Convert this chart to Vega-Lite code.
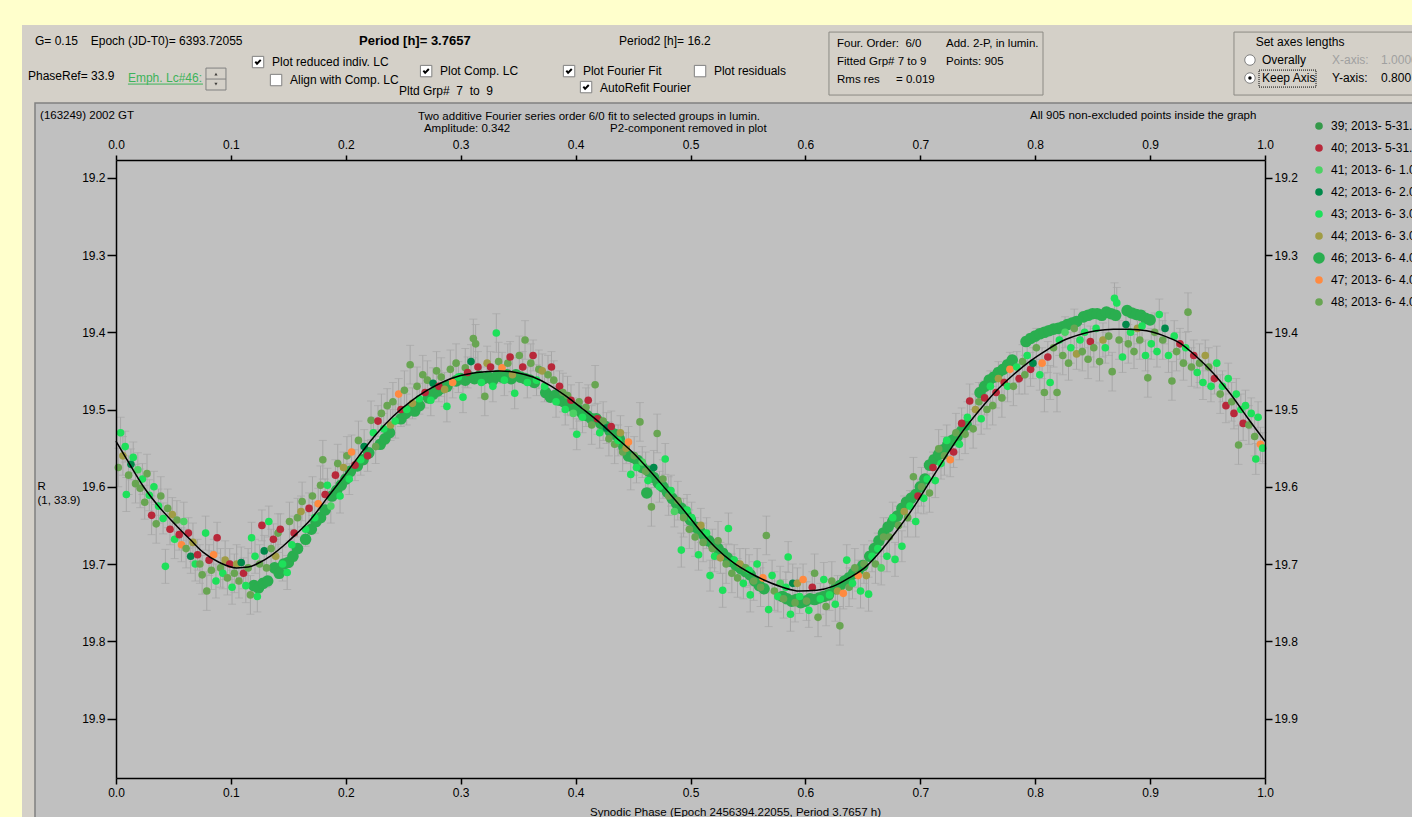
{
"$schema":"https://vega.github.io/schema/vega-lite/v6.json",
"autosize":"none",
"width":1149,"height":618,
"padding":{"left":116,"top":160,"right":147,"bottom":39},
"background":"#FFFFCC",
"config":{"font":"Liberation Sans","view":{"stroke":null},
"text":{"font":"Liberation Sans","fontSize":12,"baseline":"middle","align":"left","color":"#000"},
"axis":{"labelFont":"Liberation Sans","labelFontSize":12,"labelColor":"#000","tickColor":"#000","domainColor":"#000","domainWidth":1.5,"tickWidth":1.5,"grid":false,"labelFlush":false,"labelOverlap":false},
"legend":{"labelFont":"Liberation Sans","labelFontSize":12,"labelColor":"#000","padding":0}},
"data":{"values":[{}]},
"datasets":{
"fit":[{"p":0,"m":19.541},{"p":0.012,"m":19.571},{"p":0.024,"m":19.600},{"p":0.038,"m":19.627},{"p":0.053,"m":19.651},{"p":0.065,"m":19.669},{"p":0.076,"m":19.685},{"p":0.09,"m":19.698},{"p":0.105,"m":19.705},{"p":0.115,"m":19.704},{"p":0.125,"m":19.698},{"p":0.135,"m":19.689},{"p":0.146,"m":19.676},{"p":0.157,"m":19.661},{"p":0.169,"m":19.643},{"p":0.183,"m":19.616},{"p":0.198,"m":19.587},{"p":0.212,"m":19.559},{"p":0.227,"m":19.531},{"p":0.241,"m":19.509},{"p":0.256,"m":19.490},{"p":0.27,"m":19.476},{"p":0.285,"m":19.464},{"p":0.3,"m":19.456},{"p":0.314,"m":19.452},{"p":0.334,"m":19.450},{"p":0.348,"m":19.452},{"p":0.363,"m":19.458},{"p":0.378,"m":19.469},{"p":0.392,"m":19.483},{"p":0.406,"m":19.499},{"p":0.421,"m":19.517},{"p":0.435,"m":19.536},{"p":0.45,"m":19.556},{"p":0.465,"m":19.580},{"p":0.479,"m":19.604},{"p":0.494,"m":19.630},{"p":0.508,"m":19.656},{"p":0.522,"m":19.679},{"p":0.537,"m":19.698},{"p":0.551,"m":19.711},{"p":0.566,"m":19.722},{"p":0.58,"m":19.730},{"p":0.595,"m":19.735},{"p":0.61,"m":19.734},{"p":0.624,"m":19.729},{"p":0.638,"m":19.718},{"p":0.653,"m":19.703},{"p":0.665,"m":19.684},{"p":0.68,"m":19.656},{"p":0.694,"m":19.627},{"p":0.708,"m":19.594},{"p":0.723,"m":19.559},{"p":0.737,"m":19.528},{"p":0.752,"m":19.500},{"p":0.766,"m":19.476},{"p":0.781,"m":19.455},{"p":0.795,"m":19.438},{"p":0.81,"m":19.423},{"p":0.824,"m":19.411},{"p":0.839,"m":19.403},{"p":0.853,"m":19.398},{"p":0.868,"m":19.396},{"p":0.882,"m":19.396},{"p":0.897,"m":19.398},{"p":0.911,"m":19.404},{"p":0.926,"m":19.414},{"p":0.94,"m":19.431},{"p":0.955,"m":19.453},{"p":0.97,"m":19.480},{"p":0.984,"m":19.509},{"p":1.0,"m":19.541}],
"pts":[
{"p":0.120,"m":19.728,"e":0.006,"g":"46"},{"p":0.124,"m":19.731,"e":0.006,"g":"46"},{"p":0.128,"m":19.725,"e":0.006,"g":"46"},{"p":0.132,"m":19.722,"e":0.006,"g":"46"},
{"p":0.138,"m":19.705,"e":0.006,"g":"46"},{"p":0.142,"m":19.712,"e":0.006,"g":"46"},{"p":0.146,"m":19.700,"e":0.006,"g":"46"},{"p":0.150,"m":19.698,"e":0.006,"g":"46"},{"p":0.154,"m":19.690,"e":0.006,"g":"46"},{"p":0.158,"m":19.680,"e":0.006,"g":"46"},
{"p":0.165,"m":19.668,"e":0.006,"g":"46"},{"p":0.170,"m":19.655,"e":0.006,"g":"46"},{"p":0.174,"m":19.645,"e":0.006,"g":"46"},{"p":0.178,"m":19.640,"e":0.006,"g":"46"},{"p":0.182,"m":19.630,"e":0.006,"g":"46"},
{"p":0.188,"m":19.612,"e":0.006,"g":"46"},{"p":0.192,"m":19.605,"e":0.006,"g":"46"},{"p":0.196,"m":19.598,"e":0.006,"g":"46"},{"p":0.200,"m":19.590,"e":0.006,"g":"46"},{"p":0.204,"m":19.580,"e":0.006,"g":"46"},
{"p":0.210,"m":19.573,"e":0.006,"g":"46"},{"p":0.215,"m":19.565,"e":0.006,"g":"46"},{"p":0.220,"m":19.556,"e":0.006,"g":"46"},
{"p":0.230,"m":19.545,"e":0.006,"g":"46"},{"p":0.234,"m":19.538,"e":0.006,"g":"46"},{"p":0.238,"m":19.530,"e":0.006,"g":"46"},
{"p":0.248,"m":19.512,"e":0.006,"g":"46"},{"p":0.252,"m":19.505,"e":0.006,"g":"46"},{"p":0.256,"m":19.500,"e":0.006,"g":"46"},{"p":0.260,"m":19.502,"e":0.006,"g":"46"},{"p":0.264,"m":19.495,"e":0.006,"g":"46"},
{"p":0.272,"m":19.485,"e":0.006,"g":"46"},{"p":0.276,"m":19.480,"e":0.006,"g":"46"},{"p":0.280,"m":19.476,"e":0.006,"g":"46"},{"p":0.284,"m":19.472,"e":0.006,"g":"46"},{"p":0.288,"m":19.470,"e":0.006,"g":"46"},
{"p":0.296,"m":19.463,"e":0.006,"g":"46"},{"p":0.300,"m":19.460,"e":0.006,"g":"46"},{"p":0.304,"m":19.462,"e":0.006,"g":"46"},{"p":0.308,"m":19.458,"e":0.006,"g":"46"},{"p":0.312,"m":19.460,"e":0.006,"g":"46"},{"p":0.316,"m":19.457,"e":0.006,"g":"46"},{"p":0.320,"m":19.460,"e":0.006,"g":"46"},{"p":0.324,"m":19.458,"e":0.006,"g":"46"},{"p":0.328,"m":19.462,"e":0.006,"g":"46"},{"p":0.332,"m":19.456,"e":0.006,"g":"46"},{"p":0.336,"m":19.458,"e":0.006,"g":"46"},{"p":0.340,"m":19.455,"e":0.006,"g":"46"},{"p":0.344,"m":19.460,"e":0.006,"g":"46"},
{"p":0.348,"m":19.455,"e":0.006,"g":"46"},{"p":0.352,"m":19.458,"e":0.006,"g":"46"},{"p":0.356,"m":19.460,"e":0.006,"g":"46"},{"p":0.360,"m":19.462,"e":0.006,"g":"46"},{"p":0.364,"m":19.465,"e":0.006,"g":"46"},
{"p":0.374,"m":19.478,"e":0.006,"g":"46"},{"p":0.378,"m":19.484,"e":0.006,"g":"46"},{"p":0.382,"m":19.482,"e":0.006,"g":"46"},{"p":0.386,"m":19.488,"e":0.006,"g":"46"},{"p":0.390,"m":19.490,"e":0.006,"g":"46"},{"p":0.394,"m":19.493,"e":0.006,"g":"46"},{"p":0.398,"m":19.497,"e":0.006,"g":"46"},{"p":0.402,"m":19.500,"e":0.006,"g":"46"},{"p":0.406,"m":19.505,"e":0.006,"g":"46"},{"p":0.410,"m":19.508,"e":0.006,"g":"46"},{"p":0.414,"m":19.512,"e":0.006,"g":"46"},{"p":0.418,"m":19.512,"e":0.006,"g":"46"},{"p":0.422,"m":19.518,"e":0.006,"g":"46"},{"p":0.426,"m":19.522,"e":0.006,"g":"46"},{"p":0.430,"m":19.528,"e":0.006,"g":"46"},{"p":0.434,"m":19.532,"e":0.006,"g":"46"},{"p":0.438,"m":19.538,"e":0.006,"g":"46"},
{"p":0.442,"m":19.548,"e":0.006,"g":"46"},{"p":0.446,"m":19.560,"e":0.006,"g":"46"},{"p":0.450,"m":19.562,"e":0.006,"g":"46"},{"p":0.454,"m":19.566,"e":0.006,"g":"46"},{"p":0.458,"m":19.575,"e":0.006,"g":"46"},{"p":0.462,"m":19.608,"e":0.006,"g":"46"},{"p":0.464,"m":19.580,"e":0.006,"g":"46"},{"p":0.468,"m":19.588,"e":0.006,"g":"46"},{"p":0.472,"m":19.595,"e":0.006,"g":"46"},{"p":0.476,"m":19.600,"e":0.006,"g":"46"},{"p":0.480,"m":19.607,"e":0.006,"g":"46"},{"p":0.484,"m":19.615,"e":0.006,"g":"46"},{"p":0.488,"m":19.622,"e":0.006,"g":"46"},{"p":0.492,"m":19.628,"e":0.006,"g":"46"},{"p":0.496,"m":19.636,"e":0.006,"g":"46"},
{"p":0.500,"m":19.643,"e":0.006,"g":"46"},{"p":0.504,"m":19.652,"e":0.006,"g":"46"},{"p":0.508,"m":19.657,"e":0.006,"g":"46"},{"p":0.512,"m":19.663,"e":0.006,"g":"46"},{"p":0.516,"m":19.670,"e":0.006,"g":"46"},{"p":0.520,"m":19.675,"e":0.006,"g":"46"},{"p":0.524,"m":19.680,"e":0.006,"g":"46"},{"p":0.528,"m":19.686,"e":0.006,"g":"46"},{"p":0.532,"m":19.692,"e":0.006,"g":"46"},{"p":0.536,"m":19.697,"e":0.006,"g":"46"},{"p":0.540,"m":19.702,"e":0.006,"g":"46"},{"p":0.544,"m":19.706,"e":0.006,"g":"46"},
{"p":0.548,"m":19.710,"e":0.006,"g":"46"},{"p":0.552,"m":19.714,"e":0.006,"g":"46"},{"p":0.556,"m":19.722,"e":0.006,"g":"46"},{"p":0.560,"m":19.728,"e":0.006,"g":"46"},{"p":0.564,"m":19.732,"e":0.006,"g":"46"},
{"p":0.580,"m":19.742,"e":0.006,"g":"46"},{"p":0.584,"m":19.745,"e":0.006,"g":"46"},{"p":0.588,"m":19.748,"e":0.006,"g":"46"},{"p":0.592,"m":19.746,"e":0.006,"g":"46"},{"p":0.596,"m":19.750,"e":0.006,"g":"46"},{"p":0.600,"m":19.748,"e":0.006,"g":"46"},{"p":0.604,"m":19.745,"e":0.006,"g":"46"},{"p":0.608,"m":19.746,"e":0.006,"g":"46"},{"p":0.612,"m":19.744,"e":0.006,"g":"46"},{"p":0.616,"m":19.742,"e":0.006,"g":"46"},{"p":0.620,"m":19.740,"e":0.006,"g":"46"},
{"p":0.626,"m":19.732,"e":0.006,"g":"46"},{"p":0.630,"m":19.728,"e":0.006,"g":"46"},{"p":0.634,"m":19.722,"e":0.006,"g":"46"},{"p":0.638,"m":19.718,"e":0.006,"g":"46"},{"p":0.642,"m":19.712,"e":0.006,"g":"46"},{"p":0.646,"m":19.708,"e":0.006,"g":"46"},{"p":0.650,"m":19.702,"e":0.006,"g":"46"},
{"p":0.656,"m":19.690,"e":0.006,"g":"46"},{"p":0.660,"m":19.680,"e":0.006,"g":"46"},{"p":0.664,"m":19.670,"e":0.006,"g":"46"},{"p":0.668,"m":19.660,"e":0.006,"g":"46"},{"p":0.672,"m":19.652,"e":0.006,"g":"46"},{"p":0.676,"m":19.645,"e":0.006,"g":"46"},{"p":0.680,"m":19.638,"e":0.006,"g":"46"},{"p":0.684,"m":19.628,"e":0.006,"g":"46"},{"p":0.688,"m":19.620,"e":0.006,"g":"46"},{"p":0.692,"m":19.615,"e":0.006,"g":"46"},{"p":0.696,"m":19.610,"e":0.006,"g":"46"},{"p":0.700,"m":19.600,"e":0.006,"g":"46"},{"p":0.704,"m":19.590,"e":0.006,"g":"46"},
{"p":0.708,"m":19.572,"e":0.006,"g":"46"},{"p":0.712,"m":19.565,"e":0.006,"g":"46"},{"p":0.716,"m":19.558,"e":0.006,"g":"46"},{"p":0.720,"m":19.552,"e":0.006,"g":"46"},{"p":0.724,"m":19.545,"e":0.006,"g":"46"},{"p":0.728,"m":19.540,"e":0.006,"g":"46"},{"p":0.732,"m":19.535,"e":0.006,"g":"46"},{"p":0.736,"m":19.528,"e":0.006,"g":"46"},{"p":0.740,"m":19.520,"e":0.006,"g":"46"},
{"p":0.752,"m":19.478,"e":0.006,"g":"46"},{"p":0.756,"m":19.470,"e":0.006,"g":"46"},{"p":0.760,"m":19.462,"e":0.006,"g":"46"},{"p":0.764,"m":19.458,"e":0.006,"g":"46"},{"p":0.768,"m":19.452,"e":0.006,"g":"46"},{"p":0.772,"m":19.448,"e":0.006,"g":"46"},{"p":0.776,"m":19.442,"e":0.006,"g":"46"},{"p":0.780,"m":19.436,"e":0.006,"g":"46"},
{"p":0.792,"m":19.412,"e":0.006,"g":"46"},{"p":0.796,"m":19.408,"e":0.006,"g":"46"},{"p":0.800,"m":19.405,"e":0.006,"g":"46"},{"p":0.804,"m":19.402,"e":0.006,"g":"46"},{"p":0.808,"m":19.400,"e":0.006,"g":"46"},{"p":0.812,"m":19.398,"e":0.006,"g":"46"},{"p":0.816,"m":19.396,"e":0.006,"g":"46"},{"p":0.820,"m":19.395,"e":0.006,"g":"46"},{"p":0.824,"m":19.393,"e":0.006,"g":"46"},{"p":0.828,"m":19.390,"e":0.006,"g":"46"},{"p":0.832,"m":19.388,"e":0.006,"g":"46"},{"p":0.836,"m":19.386,"e":0.006,"g":"46"},
{"p":0.842,"m":19.380,"e":0.006,"g":"46"},{"p":0.846,"m":19.378,"e":0.006,"g":"46"},{"p":0.850,"m":19.376,"e":0.006,"g":"46"},{"p":0.854,"m":19.376,"e":0.006,"g":"46"},{"p":0.858,"m":19.378,"e":0.006,"g":"46"},{"p":0.862,"m":19.374,"e":0.006,"g":"46"},{"p":0.866,"m":19.376,"e":0.006,"g":"46"},{"p":0.870,"m":19.378,"e":0.006,"g":"46"},{"p":0.880,"m":19.372,"e":0.006,"g":"46"},{"p":0.884,"m":19.375,"e":0.006,"g":"46"},{"p":0.888,"m":19.377,"e":0.006,"g":"46"},{"p":0.892,"m":19.378,"e":0.006,"g":"46"},{"p":0.896,"m":19.382,"e":0.006,"g":"46"},{"p":0.900,"m":19.384,"e":0.006,"g":"46"},
{"p":0.002,"m":19.575,"e":0.025,"g":"48"},{"p":0.004,"m":19.530,"e":0.02,"g":"43"},{"p":0.006,"m":19.560,"e":0.025,"g":"44"},{"p":0.008,"m":19.548,"e":0.02,"g":"43"},{"p":0.009,"m":19.610,"e":0.022,"g":"43"},
{"p":0.011,"m":19.585,"e":0.025,"g":"48"},{"p":0.013,"m":19.571,"e":0.02,"g":"42"},{"p":0.015,"m":19.562,"e":0.02,"g":"43"},{"p":0.017,"m":19.596,"e":0.025,"g":"48"},{"p":0.019,"m":19.578,"e":0.022,"g":"41"},
{"p":0.021,"m":19.602,"e":0.025,"g":"48"},{"p":0.023,"m":19.590,"e":0.02,"g":"43"},{"p":0.025,"m":19.620,"e":0.022,"g":"48"},{"p":0.027,"m":19.583,"e":0.025,"g":"48"},{"p":0.029,"m":19.611,"e":0.02,"g":"43"},
{"p":0.031,"m":19.637,"e":0.025,"g":"40"},{"p":0.033,"m":19.600,"e":0.02,"g":"43"},{"p":0.035,"m":19.648,"e":0.025,"g":"48"},{"p":0.037,"m":19.625,"e":0.022,"g":"43"},{"p":0.039,"m":19.612,"e":0.025,"g":"48"},
{"p":0.041,"m":19.641,"e":0.02,"g":"43"},{"p":0.043,"m":19.703,"e":0.022,"g":"43"},{"p":0.045,"m":19.628,"e":0.025,"g":"48"},{"p":0.047,"m":19.655,"e":0.02,"g":"40"},{"p":0.049,"m":19.636,"e":0.022,"g":"44"},
{"p":0.051,"m":19.668,"e":0.025,"g":"43"},{"p":0.053,"m":19.643,"e":0.025,"g":"48"},{"p":0.055,"m":19.662,"e":0.02,"g":"40"},{"p":0.057,"m":19.675,"e":0.022,"g":"47"},{"p":0.059,"m":19.645,"e":0.025,"g":"41"},
{"p":0.061,"m":19.680,"e":0.025,"g":"48"},{"p":0.063,"m":19.660,"e":0.02,"g":"40"},{"p":0.065,"m":19.690,"e":0.022,"g":"42"},{"p":0.067,"m":19.672,"e":0.025,"g":"44"},{"p":0.069,"m":19.700,"e":0.022,"g":"43"},
{"p":0.071,"m":19.688,"e":0.02,"g":"40"},{"p":0.073,"m":19.700,"e":0.025,"g":"48"},{"p":0.075,"m":19.714,"e":0.025,"g":"48"},{"p":0.078,"m":19.660,"e":0.022,"g":"43"},{"p":0.079,"m":19.735,"e":0.025,"g":"48"},
{"p":0.081,"m":19.695,"e":0.02,"g":"40"},{"p":0.083,"m":19.708,"e":0.025,"g":"48"},{"p":0.085,"m":19.688,"e":0.02,"g":"47"},{"p":0.087,"m":19.722,"e":0.022,"g":"43"},{"p":0.088,"m":19.666,"e":0.02,"g":"40"},
{"p":0.091,"m":19.705,"e":0.025,"g":"48"},{"p":0.093,"m":19.712,"e":0.02,"g":"43"},{"p":0.095,"m":19.695,"e":0.025,"g":"44"},{"p":0.097,"m":19.718,"e":0.022,"g":"48"},{"p":0.099,"m":19.700,"e":0.02,"g":"40"},
{"p":0.101,"m":19.730,"e":0.022,"g":"43"},{"p":0.103,"m":19.712,"e":0.025,"g":"48"},{"p":0.105,"m":19.700,"e":0.025,"g":"44"},{"p":0.107,"m":19.722,"e":0.022,"g":"48"},{"p":0.109,"m":19.698,"e":0.02,"g":"42"},
{"p":0.111,"m":19.712,"e":0.02,"g":"40"},{"p":0.113,"m":19.728,"e":0.022,"g":"43"},{"p":0.115,"m":19.705,"e":0.025,"g":"48"},{"p":0.117,"m":19.740,"e":0.025,"g":"48"},{"p":0.118,"m":19.666,"e":0.02,"g":"43"},
{"p":0.121,"m":19.690,"e":0.022,"g":"43"},{"p":0.123,"m":19.742,"e":0.02,"g":"43"},{"p":0.125,"m":19.700,"e":0.025,"g":"48"},{"p":0.127,"m":19.650,"e":0.02,"g":"40"},{"p":0.129,"m":19.683,"e":0.02,"g":"42"},
{"p":0.131,"m":19.705,"e":0.025,"g":"48"},{"p":0.133,"m":19.645,"e":0.02,"g":"43"},{"p":0.135,"m":19.680,"e":0.025,"g":"48"},{"p":0.137,"m":19.668,"e":0.02,"g":"40"},{"p":0.139,"m":19.690,"e":0.022,"g":"44"},
{"p":0.141,"m":19.660,"e":0.025,"g":"48"},{"p":0.143,"m":19.655,"e":0.02,"g":"40"},{"p":0.145,"m":19.700,"e":0.022,"g":"43"},{"p":0.149,"m":19.711,"e":0.022,"g":"43"},
{"p":0.151,"m":19.645,"e":0.025,"g":"48"},{"p":0.153,"m":19.675,"e":0.02,"g":"43"},{"p":0.155,"m":19.660,"e":0.022,"g":"40"},{"p":0.158,"m":19.640,"e":0.025,"g":"48"},
{"p":0.161,"m":19.632,"e":0.02,"g":"44"},{"p":0.162,"m":19.619,"e":0.025,"g":"48"},{"p":0.165,"m":19.655,"e":0.022,"g":"43"},{"p":0.168,"m":19.628,"e":0.02,"g":"40"},
{"p":0.171,"m":19.612,"e":0.025,"g":"48"},{"p":0.173,"m":19.640,"e":0.02,"g":"43"},{"p":0.176,"m":19.622,"e":0.02,"g":"47"},{"p":0.178,"m":19.598,"e":0.025,"g":"48"},
{"p":0.180,"m":19.565,"e":0.025,"g":"48"},{"p":0.182,"m":19.610,"e":0.02,"g":"40"},{"p":0.184,"m":19.598,"e":0.022,"g":"43"},{"p":0.187,"m":19.625,"e":0.022,"g":"41"},
{"p":0.191,"m":19.585,"e":0.02,"g":"40"},{"p":0.193,"m":19.570,"e":0.025,"g":"48"},{"p":0.195,"m":19.612,"e":0.022,"g":"43"},{"p":0.198,"m":19.575,"e":0.02,"g":"44"},
{"p":0.201,"m":19.560,"e":0.025,"g":"48"},{"p":0.203,"m":19.590,"e":0.02,"g":"43"},{"p":0.205,"m":19.555,"e":0.022,"g":"47"},{"p":0.208,"m":19.572,"e":0.02,"g":"40"},
{"p":0.211,"m":19.540,"e":0.025,"g":"48"},{"p":0.213,"m":19.565,"e":0.02,"g":"43"},{"p":0.216,"m":19.548,"e":0.022,"g":"42"},{"p":0.219,"m":19.560,"e":0.02,"g":"40"},
{"p":0.222,"m":19.514,"e":0.025,"g":"48"},{"p":0.224,"m":19.530,"e":0.02,"g":"43"},{"p":0.226,"m":19.548,"e":0.022,"g":"48"},{"p":0.228,"m":19.515,"e":0.02,"g":"40"},
{"p":0.231,"m":19.505,"e":0.025,"g":"48"},{"p":0.233,"m":19.525,"e":0.02,"g":"43"},{"p":0.236,"m":19.495,"e":0.022,"g":"48"},{"p":0.239,"m":19.520,"e":0.02,"g":"44"},
{"p":0.241,"m":19.490,"e":0.025,"g":"48"},{"p":0.243,"m":19.515,"e":0.022,"g":"43"},{"p":0.246,"m":19.480,"e":0.02,"g":"47"},{"p":0.248,"m":19.500,"e":0.022,"g":"40"},
{"p":0.251,"m":19.475,"e":0.025,"g":"48"},{"p":0.253,"m":19.500,"e":0.02,"g":"43"},{"p":0.256,"m":19.442,"e":0.025,"g":"48"},{"p":0.258,"m":19.492,"e":0.02,"g":"44"},
{"p":0.262,"m":19.470,"e":0.025,"g":"48"},{"p":0.264,"m":19.486,"e":0.02,"g":"43"},{"p":0.267,"m":19.455,"e":0.025,"g":"48"},{"p":0.269,"m":19.478,"e":0.02,"g":"40"},
{"p":0.271,"m":19.462,"e":0.025,"g":"48"},{"p":0.274,"m":19.488,"e":0.02,"g":"43"},{"p":0.276,"m":19.466,"e":0.02,"g":"42"},{"p":0.279,"m":19.450,"e":0.025,"g":"48"},
{"p":0.281,"m":19.470,"e":0.02,"g":"40"},{"p":0.283,"m":19.458,"e":0.025,"g":"48"},{"p":0.286,"m":19.474,"e":0.022,"g":"44"},{"p":0.288,"m":19.496,"e":0.02,"g":"43"},
{"p":0.291,"m":19.448,"e":0.025,"g":"48"},{"p":0.293,"m":19.465,"e":0.02,"g":"47"},{"p":0.296,"m":19.440,"e":0.025,"g":"48"},{"p":0.298,"m":19.458,"e":0.02,"g":"43"},
{"p":0.302,"m":19.484,"e":0.02,"g":"43"},{"p":0.304,"m":19.446,"e":0.025,"g":"48"},{"p":0.306,"m":19.452,"e":0.02,"g":"40"},{"p":0.309,"m":19.438,"e":0.022,"g":"42"},
{"p":0.311,"m":19.408,"e":0.025,"g":"48"},{"p":0.313,"m":19.415,"e":0.025,"g":"48"},{"p":0.315,"m":19.445,"e":0.02,"g":"40"},{"p":0.318,"m":19.465,"e":0.02,"g":"43"},
{"p":0.321,"m":19.483,"e":0.025,"g":"48"},{"p":0.323,"m":19.440,"e":0.022,"g":"44"},{"p":0.326,"m":19.445,"e":0.02,"g":"40"},{"p":0.328,"m":19.470,"e":0.02,"g":"43"},
{"p":0.331,"m":19.401,"e":0.025,"g":"43"},{"p":0.333,"m":19.438,"e":0.025,"g":"48"},{"p":0.336,"m":19.446,"e":0.02,"g":"47"},{"p":0.338,"m":19.462,"e":0.02,"g":"43"},
{"p":0.341,"m":19.440,"e":0.025,"g":"48"},{"p":0.343,"m":19.432,"e":0.02,"g":"40"},{"p":0.345,"m":19.455,"e":0.022,"g":"44"},{"p":0.347,"m":19.479,"e":0.02,"g":"43"},
{"p":0.351,"m":19.430,"e":0.025,"g":"48"},{"p":0.354,"m":19.445,"e":0.02,"g":"40"},{"p":0.356,"m":19.410,"e":0.025,"g":"48"},{"p":0.358,"m":19.465,"e":0.02,"g":"43"},
{"p":0.361,"m":19.440,"e":0.025,"g":"48"},{"p":0.363,"m":19.430,"e":0.02,"g":"40"},{"p":0.366,"m":19.462,"e":0.02,"g":"43"},{"p":0.368,"m":19.448,"e":0.025,"g":"48"},
{"p":0.371,"m":19.450,"e":0.022,"g":"44"},{"p":0.373,"m":19.470,"e":0.02,"g":"43"},{"p":0.376,"m":19.455,"e":0.025,"g":"48"},{"p":0.379,"m":19.445,"e":0.02,"g":"40"},
{"p":0.381,"m":19.462,"e":0.025,"g":"48"},{"p":0.383,"m":19.490,"e":0.02,"g":"43"},{"p":0.386,"m":19.470,"e":0.02,"g":"40"},{"p":0.389,"m":19.478,"e":0.025,"g":"48"},
{"p":0.391,"m":19.500,"e":0.02,"g":"43"},{"p":0.393,"m":19.482,"e":0.025,"g":"48"},{"p":0.396,"m":19.488,"e":0.02,"g":"40"},{"p":0.398,"m":19.505,"e":0.02,"g":"41"},
{"p":0.401,"m":19.532,"e":0.02,"g":"43"},{"p":0.403,"m":19.490,"e":0.025,"g":"48"},{"p":0.406,"m":19.510,"e":0.02,"g":"43"},{"p":0.409,"m":19.497,"e":0.025,"g":"48"},
{"p":0.411,"m":19.488,"e":0.02,"g":"40"},{"p":0.414,"m":19.520,"e":0.025,"g":"48"},{"p":0.417,"m":19.468,"e":0.025,"g":"48"},{"p":0.419,"m":19.512,"e":0.02,"g":"40"},
{"p":0.421,"m":19.530,"e":0.02,"g":"43"},{"p":0.424,"m":19.515,"e":0.025,"g":"48"},{"p":0.427,"m":19.524,"e":0.02,"g":"42"},{"p":0.429,"m":19.538,"e":0.022,"g":"48"},
{"p":0.431,"m":19.522,"e":0.02,"g":"40"},{"p":0.434,"m":19.545,"e":0.025,"g":"48"},{"p":0.437,"m":19.540,"e":0.02,"g":"43"},{"p":0.439,"m":19.530,"e":0.022,"g":"44"},
{"p":0.441,"m":19.555,"e":0.025,"g":"48"},{"p":0.444,"m":19.550,"e":0.02,"g":"44"},{"p":0.446,"m":19.542,"e":0.02,"g":"47"},{"p":0.448,"m":19.584,"e":0.02,"g":"43"},
{"p":0.451,"m":19.560,"e":0.025,"g":"48"},{"p":0.453,"m":19.575,"e":0.02,"g":"43"},{"p":0.456,"m":19.516,"e":0.025,"g":"48"},{"p":0.458,"m":19.568,"e":0.02,"g":"41"},
{"p":0.461,"m":19.580,"e":0.025,"g":"48"},{"p":0.463,"m":19.592,"e":0.02,"g":"43"},{"p":0.466,"m":19.626,"e":0.025,"g":"48"},{"p":0.468,"m":19.575,"e":0.022,"g":"42"},
{"p":0.471,"m":19.531,"e":0.025,"g":"48"},{"p":0.473,"m":19.600,"e":0.02,"g":"43"},{"p":0.476,"m":19.590,"e":0.025,"g":"48"},{"p":0.478,"m":19.564,"e":0.02,"g":"43"},
{"p":0.481,"m":19.612,"e":0.025,"g":"48"},{"p":0.483,"m":19.605,"e":0.02,"g":"43"},{"p":0.486,"m":19.632,"e":0.02,"g":"41"},{"p":0.489,"m":19.618,"e":0.025,"g":"48"},
{"p":0.492,"m":19.682,"e":0.022,"g":"43"},{"p":0.494,"m":19.640,"e":0.025,"g":"48"},{"p":0.497,"m":19.630,"e":0.02,"g":"43"},{"p":0.499,"m":19.655,"e":0.025,"g":"48"},
{"p":0.501,"m":19.640,"e":0.02,"g":"43"},{"p":0.504,"m":19.665,"e":0.025,"g":"48"},{"p":0.507,"m":19.688,"e":0.02,"g":"43"},{"p":0.509,"m":19.650,"e":0.022,"g":"44"},
{"p":0.511,"m":19.672,"e":0.025,"g":"48"},{"p":0.514,"m":19.660,"e":0.02,"g":"43"},{"p":0.517,"m":19.715,"e":0.02,"g":"43"},{"p":0.519,"m":19.680,"e":0.025,"g":"48"},
{"p":0.521,"m":19.690,"e":0.02,"g":"43"},{"p":0.524,"m":19.670,"e":0.025,"g":"48"},{"p":0.526,"m":19.692,"e":0.02,"g":"44"},{"p":0.528,"m":19.734,"e":0.022,"g":"43"},
{"p":0.531,"m":19.700,"e":0.025,"g":"48"},{"p":0.533,"m":19.654,"e":0.02,"g":"43"},{"p":0.536,"m":19.712,"e":0.025,"g":"48"},{"p":0.538,"m":19.695,"e":0.02,"g":"43"},
{"p":0.541,"m":19.718,"e":0.025,"g":"48"},{"p":0.543,"m":19.700,"e":0.02,"g":"44"},{"p":0.546,"m":19.725,"e":0.02,"g":"43"},{"p":0.548,"m":19.705,"e":0.025,"g":"48"},
{"p":0.551,"m":19.708,"e":0.02,"g":"43"},{"p":0.552,"m":19.740,"e":0.022,"g":"43"},{"p":0.555,"m":19.722,"e":0.025,"g":"48"},{"p":0.558,"m":19.700,"e":0.02,"g":"43"},
{"p":0.561,"m":19.730,"e":0.025,"g":"48"},{"p":0.563,"m":19.718,"e":0.02,"g":"47"},{"p":0.566,"m":19.663,"e":0.025,"g":"48"},{"p":0.568,"m":19.759,"e":0.022,"g":"43"},
{"p":0.571,"m":19.715,"e":0.02,"g":"43"},{"p":0.573,"m":19.735,"e":0.025,"g":"48"},{"p":0.576,"m":19.742,"e":0.02,"g":"43"},{"p":0.578,"m":19.725,"e":0.022,"g":"41"},
{"p":0.581,"m":19.745,"e":0.025,"g":"48"},{"p":0.583,"m":19.730,"e":0.02,"g":"43"},{"p":0.585,"m":19.691,"e":0.02,"g":"43"},{"p":0.587,"m":19.765,"e":0.022,"g":"43"},{"p":0.589,"m":19.725,"e":0.025,"g":"42"},
{"p":0.591,"m":19.750,"e":0.025,"g":"48"},{"p":0.593,"m":19.725,"e":0.02,"g":"44"},{"p":0.595,"m":19.742,"e":0.022,"g":"43"},{"p":0.598,"m":19.720,"e":0.02,"g":"47"},
{"p":0.601,"m":19.748,"e":0.025,"g":"48"},{"p":0.603,"m":19.760,"e":0.022,"g":"43"},{"p":0.606,"m":19.730,"e":0.02,"g":"40"},{"p":0.608,"m":19.712,"e":0.025,"g":"48"},
{"p":0.611,"m":19.769,"e":0.025,"g":"48"},{"p":0.613,"m":19.745,"e":0.02,"g":"43"},{"p":0.616,"m":19.720,"e":0.022,"g":"43"},{"p":0.618,"m":19.755,"e":0.025,"g":"48"},
{"p":0.621,"m":19.740,"e":0.02,"g":"43"},{"p":0.623,"m":19.722,"e":0.025,"g":"48"},{"p":0.626,"m":19.752,"e":0.022,"g":"43"},{"p":0.628,"m":19.735,"e":0.02,"g":"44"},
{"p":0.630,"m":19.780,"e":0.025,"g":"48"},{"p":0.633,"m":19.738,"e":0.02,"g":"47"},{"p":0.636,"m":19.695,"e":0.02,"g":"43"},{"p":0.638,"m":19.730,"e":0.025,"g":"48"},
{"p":0.641,"m":19.725,"e":0.02,"g":"43"},{"p":0.643,"m":19.705,"e":0.025,"g":"48"},{"p":0.646,"m":19.715,"e":0.02,"g":"47"},{"p":0.648,"m":19.735,"e":0.022,"g":"43"},
{"p":0.651,"m":19.700,"e":0.025,"g":"48"},{"p":0.653,"m":19.715,"e":0.02,"g":"44"},{"p":0.655,"m":19.739,"e":0.022,"g":"43"},{"p":0.658,"m":19.690,"e":0.02,"g":"43"},
{"p":0.661,"m":19.700,"e":0.025,"g":"48"},{"p":0.663,"m":19.680,"e":0.02,"g":"43"},{"p":0.666,"m":19.705,"e":0.022,"g":"41"},{"p":0.668,"m":19.665,"e":0.025,"g":"48"},
{"p":0.671,"m":19.690,"e":0.02,"g":"43"},{"p":0.673,"m":19.665,"e":0.025,"g":"48"},{"p":0.676,"m":19.640,"e":0.02,"g":"43"},{"p":0.678,"m":19.694,"e":0.022,"g":"43"},
{"p":0.681,"m":19.650,"e":0.025,"g":"48"},{"p":0.684,"m":19.677,"e":0.02,"g":"43"},{"p":0.686,"m":19.632,"e":0.02,"g":"44"},{"p":0.689,"m":19.640,"e":0.025,"g":"48"},
{"p":0.691,"m":19.625,"e":0.02,"g":"43"},{"p":0.694,"m":19.587,"e":0.025,"g":"48"},{"p":0.696,"m":19.645,"e":0.02,"g":"43"},{"p":0.698,"m":19.612,"e":0.022,"g":"40"},
{"p":0.701,"m":19.600,"e":0.025,"g":"48"},{"p":0.703,"m":19.615,"e":0.02,"g":"43"},{"p":0.706,"m":19.590,"e":0.02,"g":"43"},{"p":0.708,"m":19.608,"e":0.025,"g":"48"},
{"p":0.711,"m":19.575,"e":0.02,"g":"40"},{"p":0.713,"m":19.592,"e":0.022,"g":"43"},{"p":0.716,"m":19.551,"e":0.025,"g":"48"},{"p":0.718,"m":19.570,"e":0.02,"g":"43"},
{"p":0.721,"m":19.560,"e":0.025,"g":"48"},{"p":0.723,"m":19.540,"e":0.02,"g":"43"},{"p":0.726,"m":19.565,"e":0.022,"g":"47"},{"p":0.729,"m":19.555,"e":0.02,"g":"40"},
{"p":0.731,"m":19.530,"e":0.025,"g":"48"},{"p":0.734,"m":19.545,"e":0.02,"g":"43"},{"p":0.736,"m":19.518,"e":0.02,"g":"40"},{"p":0.739,"m":19.532,"e":0.025,"g":"48"},
{"p":0.741,"m":19.510,"e":0.02,"g":"43"},{"p":0.743,"m":19.489,"e":0.022,"g":"40"},{"p":0.746,"m":19.525,"e":0.025,"g":"48"},{"p":0.748,"m":19.500,"e":0.02,"g":"44"},
{"p":0.751,"m":19.490,"e":0.025,"g":"48"},{"p":0.753,"m":19.512,"e":0.02,"g":"43"},{"p":0.756,"m":19.485,"e":0.022,"g":"40"},{"p":0.758,"m":19.500,"e":0.025,"g":"48"},
{"p":0.761,"m":19.470,"e":0.02,"g":"43"},{"p":0.763,"m":19.495,"e":0.025,"g":"48"},{"p":0.766,"m":19.478,"e":0.02,"g":"40"},{"p":0.768,"m":19.460,"e":0.022,"g":"44"},
{"p":0.771,"m":19.485,"e":0.025,"g":"48"},{"p":0.773,"m":19.465,"e":0.02,"g":"40"},{"p":0.776,"m":19.470,"e":0.02,"g":"43"},{"p":0.778,"m":19.448,"e":0.022,"g":"47"},
{"p":0.781,"m":19.470,"e":0.025,"g":"48"},{"p":0.784,"m":19.445,"e":0.02,"g":"43"},{"p":0.786,"m":19.460,"e":0.02,"g":"40"},{"p":0.789,"m":19.438,"e":0.022,"g":"48"},
{"p":0.791,"m":19.455,"e":0.025,"g":"48"},{"p":0.793,"m":19.430,"e":0.02,"g":"43"},{"p":0.796,"m":19.448,"e":0.022,"g":"40"},{"p":0.798,"m":19.440,"e":0.02,"g":"42"},
{"p":0.801,"m":19.420,"e":0.025,"g":"48"},{"p":0.804,"m":19.455,"e":0.02,"g":"43"},{"p":0.806,"m":19.440,"e":0.02,"g":"47"},{"p":0.808,"m":19.478,"e":0.025,"g":"48"},
{"p":0.811,"m":19.432,"e":0.02,"g":"40"},{"p":0.813,"m":19.465,"e":0.022,"g":"43"},{"p":0.816,"m":19.420,"e":0.025,"g":"48"},{"p":0.819,"m":19.478,"e":0.025,"g":"48"},
{"p":0.821,"m":19.410,"e":0.02,"g":"43"},{"p":0.824,"m":19.430,"e":0.025,"g":"48"},{"p":0.826,"m":19.400,"e":0.02,"g":"41"},{"p":0.829,"m":19.440,"e":0.022,"g":"48"},
{"p":0.831,"m":19.420,"e":0.02,"g":"43"},{"p":0.834,"m":19.395,"e":0.025,"g":"48"},{"p":0.836,"m":19.428,"e":0.02,"g":"44"},{"p":0.839,"m":19.410,"e":0.02,"g":"43"},
{"p":0.841,"m":19.425,"e":0.025,"g":"48"},{"p":0.843,"m":19.400,"e":0.02,"g":"43"},{"p":0.846,"m":19.435,"e":0.025,"g":"48"},{"p":0.848,"m":19.412,"e":0.02,"g":"40"},
{"p":0.851,"m":19.420,"e":0.025,"g":"48"},{"p":0.853,"m":19.395,"e":0.02,"g":"43"},{"p":0.856,"m":19.438,"e":0.025,"g":"48"},{"p":0.859,"m":19.410,"e":0.022,"g":"44"},
{"p":0.861,"m":19.420,"e":0.02,"g":"43"},{"p":0.864,"m":19.405,"e":0.025,"g":"48"},{"p":0.867,"m":19.451,"e":0.025,"g":"48"},{"p":0.869,"m":19.356,"e":0.02,"g":"43"},
{"p":0.871,"m":19.362,"e":0.02,"g":"43"},{"p":0.873,"m":19.410,"e":0.025,"g":"48"},{"p":0.876,"m":19.432,"e":0.02,"g":"43"},{"p":0.879,"m":19.390,"e":0.022,"g":"42"},
{"p":0.881,"m":19.415,"e":0.025,"g":"48"},{"p":0.883,"m":19.400,"e":0.02,"g":"43"},{"p":0.886,"m":19.425,"e":0.022,"g":"48"},{"p":0.889,"m":19.395,"e":0.02,"g":"44"},
{"p":0.891,"m":19.410,"e":0.025,"g":"48"},{"p":0.893,"m":19.392,"e":0.02,"g":"43"},{"p":0.896,"m":19.430,"e":0.02,"g":"43"},{"p":0.898,"m":19.459,"e":0.025,"g":"48"},
{"p":0.901,"m":19.415,"e":0.02,"g":"43"},{"p":0.904,"m":19.400,"e":0.025,"g":"48"},{"p":0.906,"m":19.425,"e":0.02,"g":"43"},{"p":0.908,"m":19.377,"e":0.02,"g":"43"},
{"p":0.911,"m":19.410,"e":0.025,"g":"48"},{"p":0.913,"m":19.395,"e":0.02,"g":"42"},{"p":0.916,"m":19.430,"e":0.022,"g":"43"},{"p":0.919,"m":19.463,"e":0.025,"g":"48"},
{"p":0.921,"m":19.405,"e":0.02,"g":"43"},{"p":0.923,"m":19.425,"e":0.025,"g":"48"},{"p":0.926,"m":19.415,"e":0.02,"g":"40"},{"p":0.929,"m":19.440,"e":0.022,"g":"48"},
{"p":0.931,"m":19.420,"e":0.02,"g":"43"},{"p":0.933,"m":19.374,"e":0.025,"g":"48"},{"p":0.936,"m":19.445,"e":0.025,"g":"48"},{"p":0.938,"m":19.430,"e":0.02,"g":"40"},
{"p":0.941,"m":19.452,"e":0.02,"g":"43"},{"p":0.943,"m":19.440,"e":0.025,"g":"48"},{"p":0.946,"m":19.465,"e":0.022,"g":"43"},{"p":0.948,"m":19.430,"e":0.02,"g":"44"},
{"p":0.951,"m":19.445,"e":0.025,"g":"48"},{"p":0.953,"m":19.470,"e":0.02,"g":"43"},{"p":0.956,"m":19.460,"e":0.02,"g":"40"},{"p":0.958,"m":19.440,"e":0.022,"g":"43"},
{"p":0.961,"m":19.480,"e":0.025,"g":"48"},{"p":0.963,"m":19.470,"e":0.02,"g":"43"},{"p":0.966,"m":19.495,"e":0.022,"g":"40"},{"p":0.968,"m":19.460,"e":0.02,"g":"43"},
{"p":0.971,"m":19.490,"e":0.025,"g":"48"},{"p":0.973,"m":19.505,"e":0.02,"g":"40"},{"p":0.975,"m":19.480,"e":0.02,"g":"43"},{"p":0.977,"m":19.546,"e":0.025,"g":"48"},{"p":0.979,"m":19.500,"e":0.02,"g":"43"},
{"p":0.981,"m":19.518,"e":0.022,"g":"40"},{"p":0.983,"m":19.495,"e":0.02,"g":"43"},{"p":0.986,"m":19.520,"e":0.025,"g":"48"},{"p":0.988,"m":19.505,"e":0.02,"g":"43"},
{"p":0.991,"m":19.535,"e":0.025,"g":"48"},{"p":0.992,"m":19.564,"e":0.02,"g":"43"},{"p":0.994,"m":19.510,"e":0.02,"g":"43"},{"p":0.996,"m":19.545,"e":0.022,"g":"47"},{"p":0.998,"m":19.550,"e":0.02,"g":"43"}
]},
"resolve":{"axis":{"x":"independent","y":"independent"}},
"layer":[
{"mark":{"type":"rect","fill":"#D4D0C8"},"encoding":{"x":{"datum":-0.0818,"type":"quantitative","axis":null},"x2":{"datum":1.3},"y":{"datum":19.0023,"type":"quantitative","axis":null},"y2":{"datum":20.1}}},
{"mark":{"type":"rect","fill":"#C0C0C0","stroke":"#808080","strokeWidth":1.5},"encoding":{"x":{"datum":-0.0705,"type":"quantitative","axis":null},"x2":{"datum":1.3},"y":{"datum":19.1033,"type":"quantitative","axis":null},"y2":{"datum":20.1}}},
{"mark":{"type":"rect","fill":null,"stroke":"#8C8A84","strokeWidth":1},"encoding":{"x":{"datum":0.6205,"type":"quantitative","axis":null},"x2":{"datum":0.8068},"y":{"datum":19.0114,"type":"quantitative","axis":null},"y2":{"datum":19.0929}}},
{"mark":{"type":"rect","fill":null,"stroke":"#8C8A84","strokeWidth":1},"encoding":{"x":{"datum":0.973,"type":"quantitative","axis":null},"x2":{"datum":1.3},"y":{"datum":19.0114,"type":"quantitative","axis":null},"y2":{"datum":19.0929}}},
{"mark":{"type":"text","text":"G= 0.15"},"encoding":{"x":{"datum":-0.0705,"type":"quantitative","axis":null},"y":{"datum":19.0231,"type":"quantitative","axis":null}}},
{"mark":{"type":"text","text":"Epoch (JD-T0)= 6393.72055"},"encoding":{"x":{"datum":-0.0220,"type":"quantitative","axis":null},"y":{"datum":19.0231,"type":"quantitative","axis":null}}},
{"mark":{"type":"text","text":"Period [h]= 3.7657","fontWeight":"bold","fontSize":13},"encoding":{"x":{"datum":0.2115,"type":"quantitative","axis":null},"y":{"datum":19.0231,"type":"quantitative","axis":null}}},
{"mark":{"type":"text","text":"Period2 [h]= 16.2"},"encoding":{"x":{"datum":0.4378,"type":"quantitative","axis":null},"y":{"datum":19.0231,"type":"quantitative","axis":null}}},
{"mark":{"type":"text","text":"PhaseRef= 33.9"},"encoding":{"x":{"datum":-0.0766,"type":"quantitative","axis":null},"y":{"datum":19.0683,"type":"quantitative","axis":null}}},
{"mark":{"type":"text","text":"Emph. Lc#46:","color":"#3DB35A"},"encoding":{"x":{"datum":0.0104,"type":"quantitative","axis":null},"y":{"datum":19.0709,"type":"quantitative","axis":null}}},
{"mark":{"type":"rule","color":"#3DB35A","strokeWidth":1},"encoding":{"x":{"datum":0.0104,"type":"quantitative","axis":null},"x2":{"datum":0.0757},"y":{"datum":19.0787,"type":"quantitative","axis":null}}},
{"mark":{"type":"rect","fill":"#D4D0C8","stroke":"#808080","strokeWidth":1},"encoding":{"x":{"datum":0.0783,"type":"quantitative","axis":null},"x2":{"datum":0.0957},"y":{"datum":19.058,"type":"quantitative","axis":null},"y2":{"datum":19.0864}}},
{"mark":{"type":"rule","color":"#808080","strokeWidth":1},"encoding":{"x":{"datum":0.0783,"type":"quantitative","axis":null},"x2":{"datum":0.0957},"y":{"datum":19.0722,"type":"quantitative","axis":null}}},
{"mark":{"type":"point","shape":"triangle-up","filled":true,"color":"#000","size":10},"encoding":{"x":{"datum":0.087,"type":"quantitative","axis":null},"y":{"datum":19.0657,"type":"quantitative","axis":null}}},
{"mark":{"type":"point","shape":"triangle-down","filled":true,"color":"#000","size":10},"encoding":{"x":{"datum":0.087,"type":"quantitative","axis":null},"y":{"datum":19.0787,"type":"quantitative","axis":null}}},
{"mark":{"type":"point","shape":"square","filled":true,"fill":"#FFFFFF","stroke":"#808080","strokeWidth":1,"size":130,"opacity":1},"encoding":{"x":{"datum":0.1236,"type":"quantitative","axis":null},"y":{"datum":19.0502,"type":"quantitative","axis":null}}},
{"mark":{"type":"point","shape":"square","filled":true,"fill":"#FFFFFF","stroke":"#808080","strokeWidth":1,"size":130,"opacity":1},"encoding":{"x":{"datum":0.1393,"type":"quantitative","axis":null},"y":{"datum":19.0735,"type":"quantitative","axis":null}}},
{"mark":{"type":"point","shape":"square","filled":true,"fill":"#FFFFFF","stroke":"#808080","strokeWidth":1,"size":130,"opacity":1},"encoding":{"x":{"datum":0.2699,"type":"quantitative","axis":null},"y":{"datum":19.0619,"type":"quantitative","axis":null}}},
{"mark":{"type":"point","shape":"square","filled":true,"fill":"#FFFFFF","stroke":"#808080","strokeWidth":1,"size":130,"opacity":1},"encoding":{"x":{"datum":0.3943,"type":"quantitative","axis":null},"y":{"datum":19.0619,"type":"quantitative","axis":null}}},
{"mark":{"type":"point","shape":"square","filled":true,"fill":"#FFFFFF","stroke":"#808080","strokeWidth":1,"size":130,"opacity":1},"encoding":{"x":{"datum":0.5083,"type":"quantitative","axis":null},"y":{"datum":19.0619,"type":"quantitative","axis":null}}},
{"mark":{"type":"point","shape":"square","filled":true,"fill":"#FFFFFF","stroke":"#808080","strokeWidth":1,"size":130,"opacity":1},"encoding":{"x":{"datum":0.4091,"type":"quantitative","axis":null},"y":{"datum":19.0826,"type":"quantitative","axis":null}}},
{"mark":{"type":"point","shape":"M-0.7,-0.1L-0.25,0.45L0.7,-0.55","filled":false,"stroke":"#000","strokeWidth":2,"size":60,"opacity":1},"encoding":{"x":{"datum":0.1236,"type":"quantitative","axis":null},"y":{"datum":19.0502,"type":"quantitative","axis":null}}},
{"mark":{"type":"point","shape":"M-0.7,-0.1L-0.25,0.45L0.7,-0.55","filled":false,"stroke":"#000","strokeWidth":2,"size":60,"opacity":1},"encoding":{"x":{"datum":0.2699,"type":"quantitative","axis":null},"y":{"datum":19.0619,"type":"quantitative","axis":null}}},
{"mark":{"type":"point","shape":"M-0.7,-0.1L-0.25,0.45L0.7,-0.55","filled":false,"stroke":"#000","strokeWidth":2,"size":60,"opacity":1},"encoding":{"x":{"datum":0.3943,"type":"quantitative","axis":null},"y":{"datum":19.0619,"type":"quantitative","axis":null}}},
{"mark":{"type":"point","shape":"M-0.7,-0.1L-0.25,0.45L0.7,-0.55","filled":false,"stroke":"#000","strokeWidth":2,"size":60,"opacity":1},"encoding":{"x":{"datum":0.4091,"type":"quantitative","axis":null},"y":{"datum":19.0826,"type":"quantitative","axis":null}}},
{"mark":{"type":"text","text":"Plot reduced indiv. LC"},"encoding":{"x":{"datum":0.1358,"type":"quantitative","axis":null},"y":{"datum":19.0502,"type":"quantitative","axis":null}}},
{"mark":{"type":"text","text":"Align with Comp. LC"},"encoding":{"x":{"datum":0.1514,"type":"quantitative","axis":null},"y":{"datum":19.0735,"type":"quantitative","axis":null}}},
{"mark":{"type":"text","text":"Plot Comp. LC"},"encoding":{"x":{"datum":0.2820,"type":"quantitative","axis":null},"y":{"datum":19.0619,"type":"quantitative","axis":null}}},
{"mark":{"type":"text","text":"Pltd Grp#\u00a0\u00a07\u00a0\u00a0to\u00a0\u00a09"},"encoding":{"x":{"datum":0.2463,"type":"quantitative","axis":null},"y":{"datum":19.0877,"type":"quantitative","axis":null}}},
{"mark":{"type":"text","text":"Plot Fourier Fit"},"encoding":{"x":{"datum":0.4064,"type":"quantitative","axis":null},"y":{"datum":19.0619,"type":"quantitative","axis":null}}},
{"mark":{"type":"text","text":"Plot residuals"},"encoding":{"x":{"datum":0.5204,"type":"quantitative","axis":null},"y":{"datum":19.0619,"type":"quantitative","axis":null}}},
{"mark":{"type":"text","text":"AutoRefit Fourier"},"encoding":{"x":{"datum":0.4212,"type":"quantitative","axis":null},"y":{"datum":19.0839,"type":"quantitative","axis":null}}},
{"mark":{"type":"text","text":"Four. Order:\u00a0\u00a06/0","fontSize":11.5},"encoding":{"x":{"datum":0.6275,"type":"quantitative","axis":null},"y":{"datum":19.0269,"type":"quantitative","axis":null}}},
{"mark":{"type":"text","text":"Add. 2-P, in lumin.","fontSize":11.5},"encoding":{"x":{"datum":0.7224,"type":"quantitative","axis":null},"y":{"datum":19.0269,"type":"quantitative","axis":null}}},
{"mark":{"type":"text","text":"Fitted Grp# 7 to 9","fontSize":11.5},"encoding":{"x":{"datum":0.6275,"type":"quantitative","axis":null},"y":{"datum":19.0502,"type":"quantitative","axis":null}}},
{"mark":{"type":"text","text":"Points: 905","fontSize":11.5},"encoding":{"x":{"datum":0.7224,"type":"quantitative","axis":null},"y":{"datum":19.0502,"type":"quantitative","axis":null}}},
{"mark":{"type":"text","text":"Rms res","fontSize":11.5},"encoding":{"x":{"datum":0.6275,"type":"quantitative","axis":null},"y":{"datum":19.0735,"type":"quantitative","axis":null}}},
{"mark":{"type":"text","text":"= 0.019","fontSize":11.5},"encoding":{"x":{"datum":0.6789,"type":"quantitative","axis":null},"y":{"datum":19.0735,"type":"quantitative","axis":null}}},
{"mark":{"type":"text","text":"Set axes lengths","align":"center"},"encoding":{"x":{"datum":1.0305,"type":"quantitative","axis":null},"y":{"datum":19.0244,"type":"quantitative","axis":null}}},
{"mark":{"type":"point","shape":"circle","filled":true,"fill":"#FFFFFF","stroke":"#808080","strokeWidth":1,"size":110,"opacity":1},"encoding":{"x":{"datum":0.9869,"type":"quantitative","axis":null},"y":{"datum":19.0476,"type":"quantitative","axis":null}}},
{"mark":{"type":"point","shape":"circle","filled":true,"fill":"#FFFFFF","stroke":"#808080","strokeWidth":1,"size":110,"opacity":1},"encoding":{"x":{"datum":0.9869,"type":"quantitative","axis":null},"y":{"datum":19.0709,"type":"quantitative","axis":null}}},
{"mark":{"type":"point","shape":"circle","filled":true,"fill":"#000","size":12,"opacity":1},"encoding":{"x":{"datum":0.9869,"type":"quantitative","axis":null},"y":{"datum":19.0709,"type":"quantitative","axis":null}}},
{"mark":{"type":"text","text":"Overally"},"encoding":{"x":{"datum":0.9974,"type":"quantitative","axis":null},"y":{"datum":19.0476,"type":"quantitative","axis":null}}},
{"mark":{"type":"text","text":"Keep Axis"},"encoding":{"x":{"datum":0.9974,"type":"quantitative","axis":null},"y":{"datum":19.0709,"type":"quantitative","axis":null}}},
{"mark":{"type":"rect","fill":null,"stroke":"#000","strokeWidth":1,"strokeDash":[1,1]},"encoding":{"x":{"datum":0.9948,"type":"quantitative","axis":null},"x2":{"datum":1.0444},"y":{"datum":19.0606,"type":"quantitative","axis":null},"y2":{"datum":19.0826}}},
{"mark":{"type":"text","text":"X-axis:","color":"#A0A0A0"},"encoding":{"x":{"datum":1.0583,"type":"quantitative","axis":null},"y":{"datum":19.0476,"type":"quantitative","axis":null}}},
{"mark":{"type":"text","text":"1.0000","color":"#A0A0A0"},"encoding":{"x":{"datum":1.1010,"type":"quantitative","axis":null},"y":{"datum":19.0476,"type":"quantitative","axis":null}}},
{"mark":{"type":"text","text":"Y-axis:"},"encoding":{"x":{"datum":1.0583,"type":"quantitative","axis":null},"y":{"datum":19.0709,"type":"quantitative","axis":null}}},
{"mark":{"type":"text","text":"0.800"},"encoding":{"x":{"datum":1.1010,"type":"quantitative","axis":null},"y":{"datum":19.0709,"type":"quantitative","axis":null}}},
{"mark":{"type":"text","text":"(163249) 2002 GT","fontSize":11.5},"encoding":{"x":{"datum":-0.0661,"type":"quantitative","axis":null},"y":{"datum":19.1201,"type":"quantitative","axis":null}}},
{"mark":{"type":"text","text":"Two additive Fourier series order 6/0 fit to selected groups in lumin.","align":"center","fontSize":11.5},"encoding":{"x":{"datum":0.4117,"type":"quantitative","axis":null},"y":{"datum":19.1214,"type":"quantitative","axis":null}}},
{"mark":{"type":"text","text":"Amplitude: 0.342","fontSize":11.5},"encoding":{"x":{"datum":0.2680,"type":"quantitative","axis":null},"y":{"datum":19.1369,"type":"quantitative","axis":null}}},
{"mark":{"type":"text","text":"P2-component removed in plot","fontSize":11.5},"encoding":{"x":{"datum":0.4300,"type":"quantitative","axis":null},"y":{"datum":19.1369,"type":"quantitative","axis":null}}},
{"mark":{"type":"text","text":"All 905 non-excluded points inside the graph","fontSize":11.5},"encoding":{"x":{"datum":0.7955,"type":"quantitative","axis":null},"y":{"datum":19.1201,"type":"quantitative","axis":null}}},
{"data":{"name":"pts"},"mark":{"type":"errorbar","color":"#A6A6A6","thickness":1,"ticks":{"size":8,"color":"#A6A6A6"}},
 "encoding":{"x":{"field":"p","type":"quantitative","scale":{"domain":[0,1],"nice":false,"zero":false},"axis":null},
 "y":{"field":"m","type":"quantitative","scale":{"domain":[19.177,19.977],"reverse":true,"nice":false,"zero":false},"axis":null},
 "yError":{"field":"e"}}},
{"data":{"name":"pts"},"mark":{"type":"circle","opacity":1,"strokeWidth":0},
 "encoding":{"x":{"field":"p","type":"quantitative","scale":{"domain":[0,1],"nice":false,"zero":false},
   "axis":{"orient":"bottom","zindex":1,"values":[0,0.1,0.2,0.3,0.4,0.5,0.6,0.7,0.8,0.9,1],"format":".1f","tickSize":6,"labelPadding":3,"title":"Synodic Phase (Epoch 2456394.22055, Period 3.7657 h)","titleFont":"Liberation Sans","titleFontSize":11.5,"titleFontWeight":"normal","titleColor":"#000","titleX":619,"titleY":34,"titleBaseline":"middle","titleAlign":"center","titlePadding":0}},
 "y":{"field":"m","type":"quantitative","scale":{"domain":[19.177,19.977],"reverse":true,"nice":false,"zero":false},
   "axis":{"orient":"left","zindex":1,"values":[19.2,19.3,19.4,19.5,19.6,19.7,19.8,19.9],"format":".1f","tickSize":9,"labelPadding":2,"title":["R","(1, 33.9)"],"titleFont":"Liberation Sans","titleFontSize":11.5,"titleFontWeight":"normal","titleColor":"#000","titleAngle":0,"titleAlign":"left","titleBaseline":"top","titleX":-79,"titleY":320,"titleLineHeight":14}},
 "color":{"field":"g","type":"ordinal","scale":{"type":"ordinal","domain":["39","40","41","42","43","44","46","47","48"],"range":["#35994A","#B8283A","#4CD264","#00894A","#1EE05A","#A09C45","#2AAE4F","#FF8A40","#68A552"]},
   "legend":{"title":null,"orient":"none","legendX":1197,"legendY":-40,"rowPadding":10,"labelOffset":6,"symbolStrokeWidth":0,"labelExpr":"datum.label=='39'?'39; 2013- 5-31.97':datum.label=='40'?'40; 2013- 5-31.98':datum.label=='41'?'41; 2013- 6- 1.01':datum.label=='42'?'42; 2013- 6- 2.02':datum.label=='43'?'43; 2013- 6- 3.01':datum.label=='44'?'44; 2013- 6- 3.03':datum.label=='46'?'46; 2013- 6- 4.01':datum.label=='47'?'47; 2013- 6- 4.03':'48; 2013- 6- 4.05'"}},
 "size":{"field":"g","type":"ordinal","scale":{"type":"ordinal","domain":["39","40","41","42","43","44","46","47","48"],"range":[58,58,58,58,58,58,135,58,58]},
   "legend":{"title":null,"orient":"none","legendX":1197,"legendY":-40,"rowPadding":10,"labelOffset":6,"symbolStrokeWidth":0,"labelExpr":"datum.label=='39'?'39; 2013- 5-31.97':datum.label=='40'?'40; 2013- 5-31.98':datum.label=='41'?'41; 2013- 6- 1.01':datum.label=='42'?'42; 2013- 6- 2.02':datum.label=='43'?'43; 2013- 6- 3.01':datum.label=='44'?'44; 2013- 6- 3.03':datum.label=='46'?'46; 2013- 6- 4.01':datum.label=='47'?'47; 2013- 6- 4.03':'48; 2013- 6- 4.05'"}}}},
{"data":{"name":"fit"},"mark":{"type":"line","color":"#000","strokeWidth":1.5,"interpolate":"monotone"},
 "encoding":{"x":{"field":"p","type":"quantitative","scale":{"domain":[0,1],"nice":false,"zero":false},
   "axis":{"orient":"top","zindex":1,"values":[0,0.1,0.2,0.3,0.4,0.5,0.6,0.7,0.8,0.9,1],"format":".1f","tickSize":5,"labelPadding":4,"title":null}},
 "y":{"field":"m","type":"quantitative","scale":{"domain":[19.177,19.977],"reverse":true,"nice":false,"zero":false},
   "axis":{"orient":"right","zindex":1,"values":[19.2,19.3,19.4,19.5,19.6,19.7,19.8,19.9],"format":".1f","tickSize":7,"labelPadding":2,"title":null}}}}
]
}
